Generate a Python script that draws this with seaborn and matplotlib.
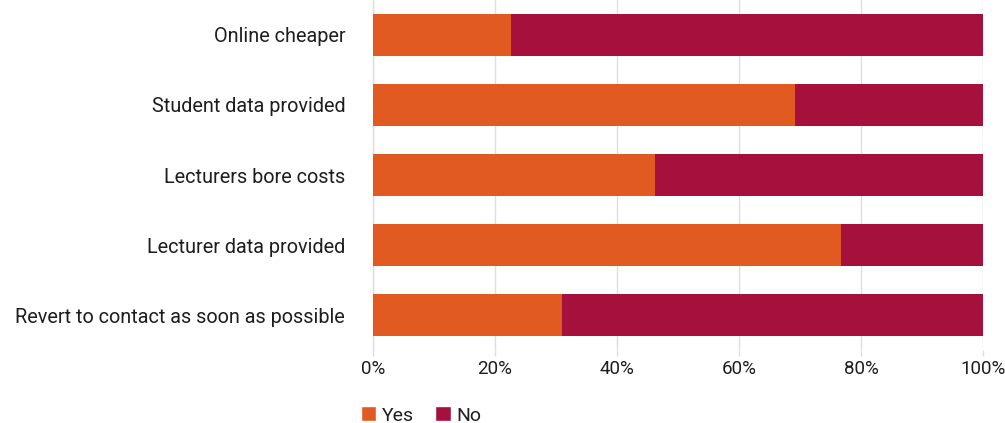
import matplotlib
matplotlib.use("Agg")
import matplotlib.pyplot as plt
import seaborn as sns
import pandas as pd
from matplotlib.patches import Patch
from matplotlib.ticker import FuncFormatter

categories = [
    "Online cheaper",
    "Student data provided",
    "Lecturers bore costs",
    "Lecturer data provided",
    "Revert to contact as soon as possible",
]
yes_pct = [22.6, 69.2, 46.3, 76.7, 31.0]
no_pct = [100 - v for v in yes_pct]
x_ticks = [0, 20, 40, 60, 80, 100]

YES_COLOR = "#E05A22"
NO_COLOR = "#A6103C"
GRID_COLOR = "#DEDEDE"
TEXT_COLOR = "#1E1E1E"

sns.set_theme(style="white")
plt.rcParams["font.family"] = ["Roboto", "DejaVu Sans"]

df = pd.DataFrame({"category": categories, "yes": yes_pct, "no": no_pct})
df["total"] = df["yes"] + df["no"]

fig = plt.figure(figsize=(10.05, 4.23), dpi=100)
ax = fig.add_axes([373 / 1005, 1 - 350 / 423, 610 / 1005, 350 / 423])

# stacked horizontal bars: full length in "No" colour, "Yes" share on top
sns.barplot(data=df, x="total", y="category", orient="h", color=NO_COLOR,
            width=0.61, saturation=1, ax=ax, zorder=2, linewidth=0)
sns.barplot(data=df, x="yes", y="category", orient="h", color=YES_COLOR,
            width=0.61, saturation=1, ax=ax, zorder=3, linewidth=0)

ax.set_xlim(0, 100)
ax.set_ylim(4.5, -0.5)
ax.set_xticks(x_ticks)
ax.xaxis.set_major_formatter(FuncFormatter(lambda v, _: f"{v:.0f}%"))
ax.grid(axis="x", color=GRID_COLOR, linewidth=1.0, zorder=0)
ax.set_axisbelow(True)
for s in ["top", "right", "bottom"]:
    ax.spines[s].set_visible(False)
ax.spines["left"].set_color(GRID_COLOR)
ax.spines["left"].set_linewidth(1.0)
ax.tick_params(axis="x", length=4, width=1.0, color=GRID_COLOR, pad=3,
               labelsize=13.5, labelcolor=TEXT_COLOR, bottom=True)
ax.tick_params(axis="y", length=0, pad=20, labelsize=14.3, labelcolor=TEXT_COLOR)
ax.set_xlabel("")
ax.set_ylabel("")

handles = [Patch(facecolor=YES_COLOR, label="Yes"),
           Patch(facecolor=NO_COLOR, label="No")]
fig.legend(handles=handles, loc="lower left", bbox_to_anchor=(343 / 1005, -0.045),
           ncol=2, frameon=False, fontsize=14, handlelength=0.8,
           handleheight=0.8, handletextpad=0.3, columnspacing=1.1,
           labelcolor=TEXT_COLOR)

fig.savefig("out.png", dpi=100)
